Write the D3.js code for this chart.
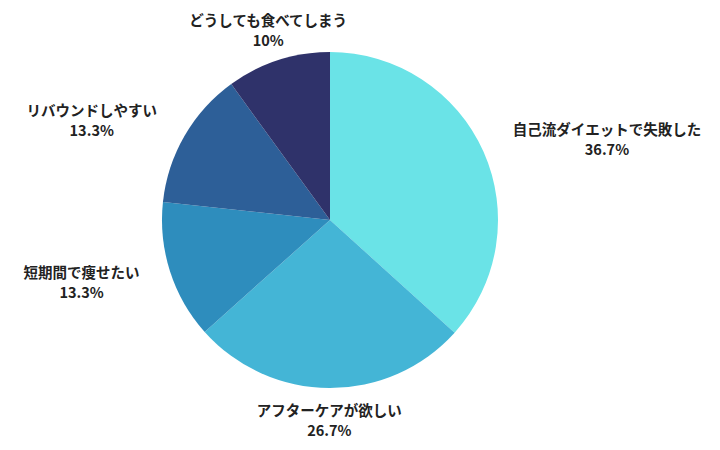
<!DOCTYPE html>
<html><head><meta charset="utf-8">
<script src="https://cdn.jsdelivr.net/npm/d3@7"></script>
<style>
html,body{margin:0;padding:0;background:#fff;}
svg{display:block;}
</style></head>
<body>
<svg id="chart" width="720" height="450"></svg>
<script>
const categories = ["自己流ダイエットで失敗した","アフターケアが欲しい","短期間で痩せたい","リバウンドしやすい","どうしても食べてしまう"];
const values = [36.7, 26.7, 13.3, 13.3, 10];
const valueLabels = ["36.7%","26.7%","13.3%","13.3%","10%"];
const colors = ["#6ae3e7","#44b5d6","#2e8dbd","#2d5f98","#2f326a"];

const svg = d3.select("#chart");
const cx = 330, cy = 220, r = 168, labelR = 200;
const g = svg.append("g").attr("transform", `translate(${cx},${cy})`);

const pie = d3.pie().sort(null).value(d => d)(values);
const arc = d3.arc().innerRadius(0).outerRadius(r);
const labelArc = d3.arc().innerRadius(labelR).outerRadius(labelR);

g.selectAll("path").data(pie).join("path")
  .attr("d", arc)
  .attr("fill", (d,i) => colors[i]);

const lbl = g.selectAll("g.lbl").data(pie).join("g").attr("class","lbl")
  .attr("transform", d => {
    const [x,y] = labelArc.centroid(d);
    return `translate(${x},${y})`;
  });

function anchor(d){
  const x = labelArc.centroid(d)[0];
  if (Math.abs(x) < 80) return "middle";
  return x > 0 ? "start" : "end";
}

lbl.each(function(d,i){
  const sel = d3.select(this);
  const a = anchor(d);
  const t = sel.append("text")
    .attr("font-family", "'Noto Sans CJK JP','Noto Sans',sans-serif")
    .attr("font-weight", "bold")
    .attr("font-size", "14.5px")
    .attr("fill", "#222")
    .attr("text-anchor", a)
    .attr("y", -10)
    .attr("dominant-baseline","central")
    .text(categories[i]);
  const w = t.node().getComputedTextLength();
  let x2 = 0;
  if (a === "start") x2 = w/2;
  if (a === "end") x2 = -w/2;
  sel.append("text")
    .attr("font-family", "'Noto Sans CJK JP','Noto Sans',sans-serif")
    .attr("font-weight", "bold")
    .attr("font-size", "14.5px")
    .attr("fill", "#222")
    .attr("text-anchor", "middle")
    .attr("x", x2)
    .attr("y", 10)
    .attr("dominant-baseline","central")
    .text(valueLabels[i]);
});
</script>
</body></html>
